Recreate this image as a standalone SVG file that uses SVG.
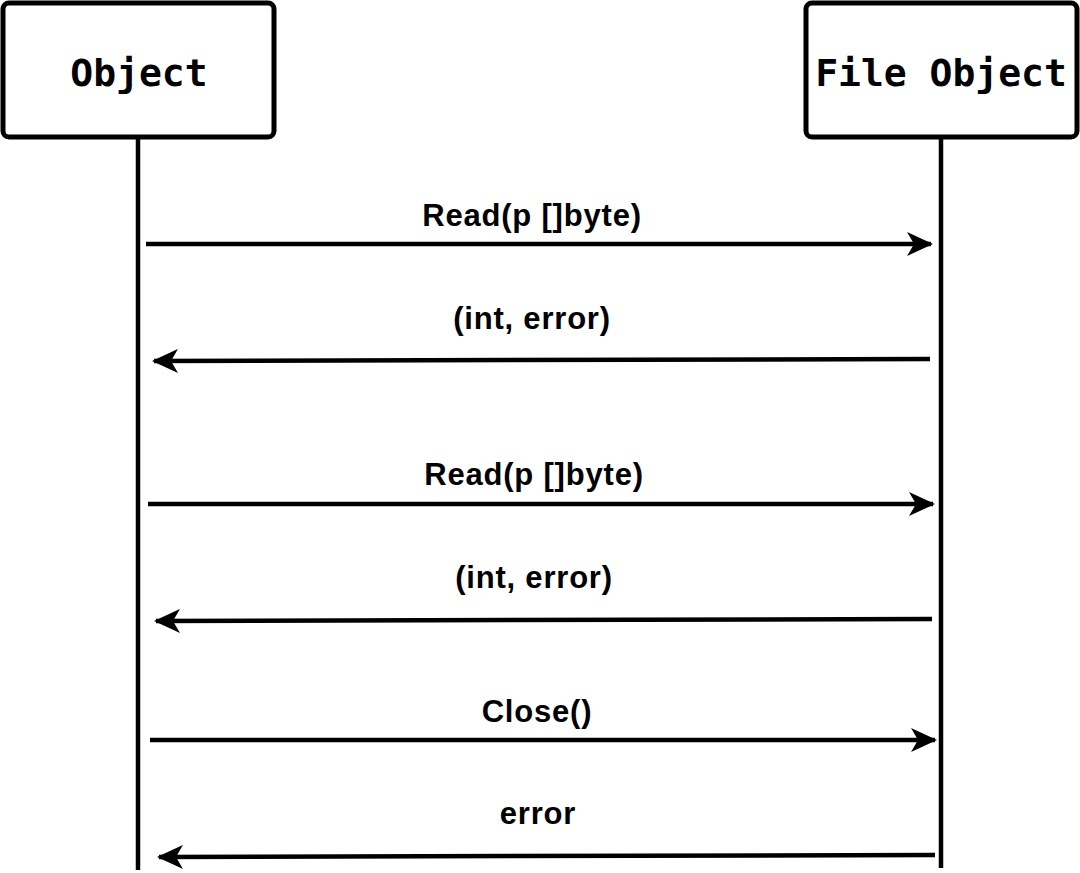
<svg xmlns="http://www.w3.org/2000/svg" width="1080" height="873" viewBox="0 0 1080 873">
<style>
.box{fill:#fff;stroke:#000;stroke-width:5}
.life{stroke:#000;stroke-width:4.5;fill:none}
.msg{stroke:#000;stroke-width:4.5;fill:none}
.name{font-family:"DejaVu Sans Mono",monospace;font-weight:bold;font-size:38px;fill:#000;text-anchor:middle}
.lbl{font-family:"Liberation Sans",Arial,sans-serif;font-weight:bold;font-size:31px;letter-spacing:0.8px;fill:#000;text-anchor:middle}
</style>
<defs>
<marker id="ah" viewBox="0 0 26 24" refX="24" refY="12" markerWidth="26" markerHeight="24" markerUnits="userSpaceOnUse" orient="auto">
<path d="M0,0 L26,12 L0,24 L7,12 Z" fill="#000"/>
</marker>
</defs>
<rect width="1080" height="873" fill="#fff"/>
<g id="lifelines">
<line class="life" x1="138" y1="137" x2="138" y2="870"/>
<line class="life" x1="941" y1="137" x2="941" y2="868"/>
</g>
<g id="obj">
<rect class="box" x="3" y="3" width="271" height="134" rx="6"/>
<text class="name" x="139" y="86">Object</text>
</g>
<g id="fileobj">
<rect class="box" x="806" y="3" width="271" height="134" rx="6"/>
<text class="name" x="941" y="86">File Object</text>
</g>
<g id="connectors">
<line class="msg" x1="146" y1="244" x2="931" y2="244" marker-end="url(#ah)"/>
<line class="msg" x1="930" y1="359" x2="154" y2="361" marker-end="url(#ah)"/>
<line class="msg" x1="148" y1="504" x2="933" y2="504" marker-end="url(#ah)"/>
<line class="msg" x1="932" y1="619" x2="156" y2="621" marker-end="url(#ah)"/>
<line class="msg" x1="150" y1="740" x2="935" y2="740" marker-end="url(#ah)"/>
<line class="msg" x1="935" y1="855" x2="159" y2="857" marker-end="url(#ah)"/>
</g>
<g id="labels">
<text class="lbl" x="532" y="226">Read(p []byte)</text>
<text class="lbl" x="532" y="329">(int, error)</text>
<text class="lbl" x="534" y="485">Read(p []byte)</text>
<text class="lbl" x="534" y="588">(int, error)</text>
<text class="lbl" x="537" y="722">Close()</text>
<text class="lbl" x="538" y="824">error</text>
</g>
</svg>
